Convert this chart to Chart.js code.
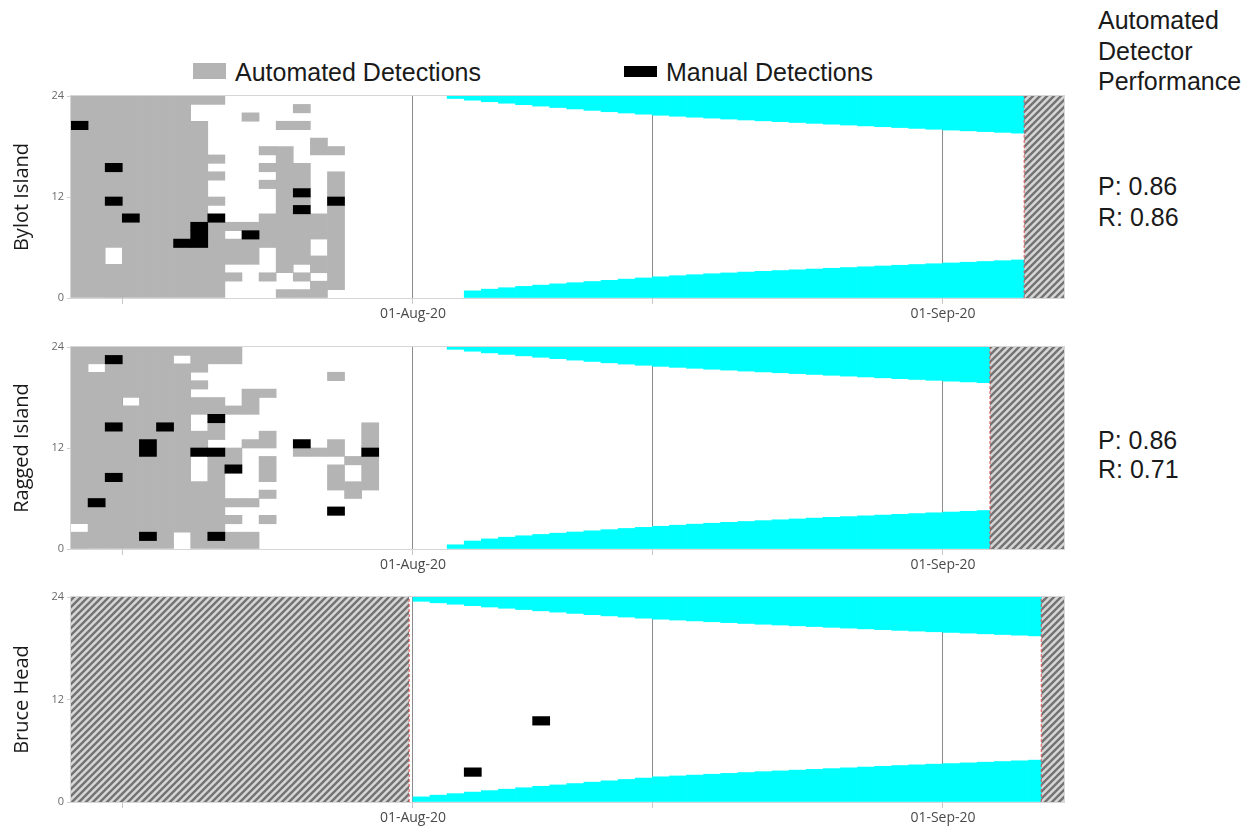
<!DOCTYPE html>
<html>
<head>
<meta charset="utf-8">
<title>Detections by hour and day</title>
<script src="https://cdn.jsdelivr.net/npm/chart.js@4.4.1/dist/chart.umd.min.js"></script>
<style>
  html, body { margin: 0; padding: 0; background: #fff; }
  #page { position: relative; width: 1253px; height: 831px; overflow: hidden;
          font-family: "Liberation Sans", Arial, sans-serif; color: #1a1a1a; }
  canvas { position: absolute; left: 0; }
  .swatch { position: absolute; }
  .key { position: absolute; top: 57px; height: 30px; line-height: 30px; font-size: 25px; white-space: nowrap; }
  .perf { position: absolute; left: 1098px; font-size: 25px; white-space: nowrap; }
</style>
</head>
<body>
<div id="page">
  <div class="swatch" style="left:193px;top:63px;width:33px;height:16px;background:#b4b4b4"></div>
  <div class="key" style="left:235px">Automated Detections</div>
  <div class="swatch" style="left:624px;top:66px;width:33px;height:11px;background:#000"></div>
  <div class="key" style="left:666px">Manual Detections</div>

  <div class="perf" style="top:5px;line-height:30.5px">Automated<br>Detector<br>Performance</div>
  <div class="perf" id="perf0" style="top:171px;line-height:31px"></div>
  <div class="perf" id="perf1" style="top:426px;line-height:29px"></div>

  <canvas id="panel0" width="1075" height="242" style="top:86px"></canvas>
  <canvas id="panel1" width="1075" height="242" style="top:337px"></canvas>
  <canvas id="panel2" width="1075" height="245" style="top:587px"></canvas>
</div>

<script>
// Day 0 = 12-Jul-2020; hours are 0-24 within each day.
const xMaxDay = 58.08;
const tickDays = [3, 20, 34, 51];
const tickLabels = ['', '01-Aug-20', '', '01-Sep-20'];
const hourTicks = [0, 12, 24];

const siteNames = ['Bylot Island', 'Ragged Island', 'Bruce Head'];

// Automated detections as runs: [day, first hour, end hour)
const bylotAutomated = [
  [0, 0, 24], [1, 0, 24], [2, 0, 4], [2, 6, 24], [3, 0, 24], [4, 0, 24], [5, 0, 24], [6, 0, 24],
  [7, 0, 21], [7, 23, 24],
  [8, 0, 9], [8, 11, 12], [8, 14, 15], [8, 16, 17], [8, 23, 24],
  [9, 2, 3], [9, 4, 7], [9, 8, 9],
  [10, 4, 7], [10, 8, 9], [10, 21, 22],
  [11, 2, 3], [11, 6, 10], [11, 13, 14], [11, 15, 16], [11, 17, 18],
  [12, 0, 1], [12, 3, 18], [12, 20, 21],
  [13, 0, 1], [13, 2, 3], [13, 4, 10], [13, 11, 12], [13, 13, 16], [13, 20, 21], [13, 22, 23],
  [14, 0, 2], [14, 3, 5], [14, 7, 10], [14, 17, 19],
  [15, 1, 11], [15, 12, 15], [15, 17, 18]
];
// Manual detections: [day, hour]
const bylotManual = [
  [0, 20], [2, 15], [2, 11], [3, 9], [6, 6], [7, 6], [7, 7], [7, 8],
  [8, 9], [10, 7], [13, 12], [13, 10], [15, 11]
];

const raggedAutomated = [
  [0, 0, 2], [0, 3, 24], [1, 0, 21], [1, 22, 24], [2, 0, 24], [3, 0, 17], [3, 18, 24],
  [4, 0, 24], [5, 0, 24], [6, 2, 22], [6, 23, 24],
  [7, 0, 8], [7, 12, 14], [7, 16, 18], [7, 19, 20], [7, 21, 24],
  [8, 0, 11], [8, 13, 15], [8, 16, 18], [8, 22, 24],
  [9, 0, 2], [9, 3, 4], [9, 5, 6], [9, 10, 12], [9, 16, 17], [9, 22, 24],
  [10, 0, 2], [10, 5, 6], [10, 12, 13], [10, 16, 19],
  [11, 3, 4], [11, 6, 7], [11, 8, 11], [11, 12, 14], [11, 18, 19],
  [13, 11, 12], [14, 11, 12],
  [15, 7, 10], [15, 11, 13], [15, 20, 21],
  [16, 6, 8], [16, 10, 11],
  [17, 7, 11], [17, 12, 15]
];
const raggedManual = [
  [2, 22], [2, 14], [5, 14], [4, 12], [4, 11], [7, 11], [8, 11], [8, 15],
  [2, 8], [1, 5], [9, 9], [4, 1], [8, 1], [13, 12], [15, 4], [17, 11]
];

const bruceAutomated = [];
const bruceManual = [[23, 3], [27, 9]];

// Hours of darkness: evening start hour (dusk) and morning end hour (dawn), one value per day
const bylotDuskFrom = 22;
const bylotDusk = [23.7, 23.5, 23.32, 23.14, 22.97, 22.8, 22.63, 22.46, 22.29, 22.13, 21.98, 21.84,
  21.71, 21.59, 21.48, 21.37, 21.26, 21.15, 21.05, 20.95, 20.85, 20.75, 20.65, 20.55, 20.45, 20.35,
  20.25, 20.15, 20.05, 19.95, 19.86, 19.77, 19.68, 19.59];
const bylotDawnFrom = 23;
const bylotDawn = [0.85, 1.05, 1.22, 1.38, 1.53, 1.68, 1.82, 1.96, 2.1, 2.24, 2.38, 2.52, 2.65, 2.77,
  2.88, 2.98, 3.08, 3.17, 3.26, 3.35, 3.44, 3.53, 3.62, 3.71, 3.8, 3.89, 3.98, 4.07, 4.16, 4.25,
  4.34, 4.43, 4.52];

const raggedDuskFrom = 22;
const raggedDusk = [23.72, 23.5, 23.3, 23.12, 22.95, 22.78, 22.61, 22.44, 22.28, 22.12, 21.97, 21.83,
  21.7, 21.58, 21.47, 21.36, 21.25, 21.14, 21.04, 20.94, 20.84, 20.74, 20.64, 20.54, 20.44, 20.34,
  20.24, 20.14, 20.04, 19.94, 19.85, 19.76];
const raggedDawnFrom = 22;
const raggedDawn = [0.5, 0.95, 1.2, 1.4, 1.57, 1.73, 1.88, 2.02, 2.16, 2.3, 2.44, 2.57, 2.7, 2.83,
  2.95, 3.06, 3.17, 3.27, 3.37, 3.47, 3.57, 3.67, 3.76, 3.85, 3.94, 4.03, 4.12, 4.21, 4.3, 4.39,
  4.48, 4.57];

const bruceDuskFrom = 20;
const bruceDusk = [23.5, 23.32, 23.15, 22.99, 22.83, 22.68, 22.53, 22.38, 22.23, 22.08, 21.93, 21.79,
  21.65, 21.52, 21.4, 21.3, 21.2, 21.1, 21.0, 20.9, 20.81, 20.72, 20.63, 20.54, 20.45, 20.36, 20.27,
  20.18, 20.09, 20.01, 19.93, 19.85, 19.77, 19.69, 19.61, 19.53, 19.45];
const bruceDawnFrom = 20;
const bruceDawn = [0.6, 0.8, 0.98, 1.16, 1.33, 1.5, 1.67, 1.84, 2.0, 2.16, 2.32, 2.48, 2.64, 2.8,
  2.95, 3.05, 3.15, 3.25, 3.35, 3.45, 3.55, 3.64, 3.73, 3.82, 3.91, 4.0, 4.09, 4.18, 4.27, 4.35,
  4.43, 4.5, 4.58, 4.66, 4.74, 4.82, 4.9];

// Periods without recordings: [from day, to day]
const bylotNoData = [[55.75, 58.08]];
const raggedNoData = [[53.75, 58.08]];
const bruceNoData = [[0, 19.78], [56.75, 58.08]];

// Detector precision / recall per site
const perfPrecision = [0.86, 0.86];
const perfRecall = [0.86, 0.71];

// ---------------------------------------------------------------------------
const GREY = '#b4b4b4';
const CYAN = '#00ffff';

Chart.defaults.font.family = "'Open Sans', 'DejaVu Sans', sans-serif";
Chart.defaults.animation = false;

// Diagonal grey stripes used for "no recording" periods
function hatchPattern() {
  const size = 7;
  const tile = document.createElement('canvas');
  tile.width = tile.height = size;
  const g = tile.getContext('2d');
  g.fillStyle = '#d6d6d6';
  g.fillRect(0, 0, size, size);
  g.strokeStyle = '#737373';
  g.lineWidth = 2.4;
  g.beginPath();
  g.moveTo(0, size); g.lineTo(size, 0);
  g.moveTo(-size / 2, size / 2); g.lineTo(size / 2, -size / 2);
  g.moveTo(size / 2, size * 1.5); g.lineTo(size * 1.5, size / 2);
  g.stroke();
  return g.createPattern(tile, 'repeat');
}

const runBars = runs => runs.map(([d, a, b]) => ({ x: d + 0.5, y: [a, b] }));
const cellBars = cells => cells.map(([d, h]) => ({ x: d + 0.5, y: [h, h + 1] }));
const duskBars = (from, hrs) => hrs.map((h, i) => ({ x: from + i + 0.5, y: [h, 24] }));
const dawnBars = (from, hrs) => hrs.map((h, i) => ({ x: from + i + 0.5, y: [0, h] }));

const framePlugin = {
  id: 'frame',
  afterDatasetsDraw(chart) {
    const { ctx, chartArea: a } = chart;
    ctx.save();
    ctx.strokeStyle = '#d6d6d6';
    ctx.lineWidth = 1;
    ctx.strokeRect(a.left - 0.5, a.top - 0.5, a.right - a.left + 1, a.bottom - a.top + 1);
    ctx.restore();
  }
};

function drawPanel(canvasId, name, auto, manual, duskFrom, dusk, dawnFrom, dawn, gaps) {
  const pattern = hatchPattern();
  const datasets = [
    { label: 'Manual Detections', data: cellBars(manual), backgroundColor: '#000', order: 1 },
    { label: 'Automated Detections', data: runBars(auto), backgroundColor: GREY, order: 2 },
    { label: 'Dark (evening)', data: duskBars(duskFrom, dusk), backgroundColor: CYAN, order: 3 },
    { label: 'Dark (morning)', data: dawnBars(dawnFrom, dawn), backgroundColor: CYAN, order: 3 }
  ];
  gaps.forEach(([a, b]) => {
    datasets.push({
      type: 'line', label: 'No data', data: [{ x: a, y: 24 }, { x: b, y: 24 }],
      backgroundColor: pattern, borderWidth: 0, fill: 'origin', pointRadius: 0, order: 0
    });
    const edge = a <= 0 ? b : a;
    datasets.push({
      type: 'line', label: 'Recording limit', data: [{ x: edge, y: 0 }, { x: edge, y: 24 }],
      borderColor: 'rgba(225,70,70,0.9)', borderWidth: 1, borderDash: [3, 2],
      fill: false, pointRadius: 0, order: -1
    });
  });

  new Chart(document.getElementById(canvasId), {
    type: 'bar',
    data: { datasets },
    options: {
      responsive: false,
      devicePixelRatio: 1,
      events: [],
      layout: { padding: { top: 10, right: 11, bottom: 0, left: 0 } },
      datasets: {
        bar: { grouped: false, barPercentage: 1, categoryPercentage: 1, borderWidth: 0 },
        line: { tension: 0 }
      },
      plugins: { legend: { display: false }, tooltip: { enabled: false } },
      scales: {
        x: {
          type: 'linear', min: 0, max: xMaxDay, offset: false,
          afterBuildTicks: s => { s.ticks = tickDays.map(v => ({ value: v })); },
          afterFit: s => { s.height = 30; },
          ticks: {
            autoSkip: false, maxRotation: 0, padding: 2, color: '#4a4a4a', font: { size: 14 },
            callback: v => tickLabels[tickDays.indexOf(v)]
          },
          grid: { offset: false, color: '#8c8c8c', lineWidth: 1, tickLength: 6, tickColor: '#c8c8c8' },
          border: { display: false }
        },
        y: {
          min: 0, max: 24,
          afterBuildTicks: s => { s.ticks = hourTicks.map(v => ({ value: v })); },
          afterFit: s => { s.width = 71; },
          ticks: { padding: 3, color: '#6a6a6a', font: { size: 11 } },
          grid: { drawOnChartArea: false, tickLength: 4, tickColor: '#d0d0d0' },
          border: { display: false },
          title: {
            display: true, text: name, color: '#1a1a1a', font: { size: 20 },
            padding: { top: 10, bottom: 0 }
          }
        }
      }
    },
    plugins: [framePlugin]
  });
}

drawPanel('panel0', siteNames[0], bylotAutomated, bylotManual,
  bylotDuskFrom, bylotDusk, bylotDawnFrom, bylotDawn, bylotNoData);
drawPanel('panel1', siteNames[1], raggedAutomated, raggedManual,
  raggedDuskFrom, raggedDusk, raggedDawnFrom, raggedDawn, raggedNoData);
drawPanel('panel2', siteNames[2], bruceAutomated, bruceManual,
  bruceDuskFrom, bruceDusk, bruceDawnFrom, bruceDawn, bruceNoData);

perfPrecision.forEach((p, i) => {
  document.getElementById('perf' + i).innerHTML =
    'P: ' + p.toFixed(2) + '<br>R: ' + perfRecall[i].toFixed(2);
});
</script>
</body>
</html>
